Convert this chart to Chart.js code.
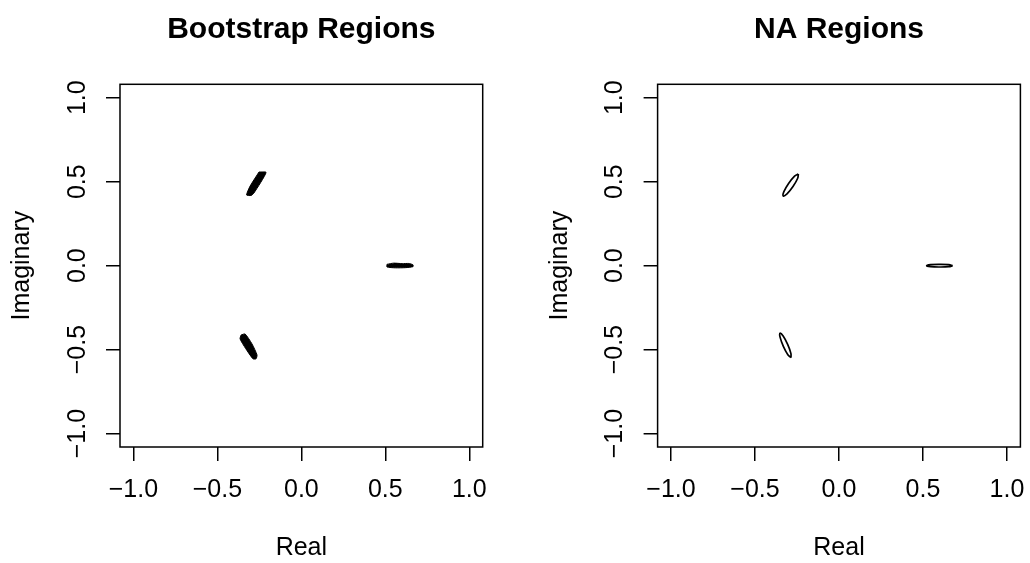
<!DOCTYPE html>
<html>
<head>
<meta charset="utf-8">
<script src="https://cdn.jsdelivr.net/npm/chart.js@4.4.1/dist/chart.umd.min.js"></script>
<style>
  body { margin: 0; background: #fff; overflow: hidden; }
  canvas { position: absolute; top: 0; }
  #boot-chart { left: 0; }
  #na-chart { left: 515px; }
</style>
</head>
<body>
<canvas id="boot-chart" width="515" height="563"></canvas>
<canvas id="na-chart" width="515" height="563"></canvas>
<script>
const tickValues = [-1, -0.5, 0, 0.5, 1];
const tickLabels = ["\u22121.0", "\u22120.5", "0.0", "0.5", "1.0"];

// region outlines, [real, imaginary]
const bootUpper = [[-0.252, 0.558], [-0.21, 0.555], [-0.282, 0.433], [-0.299, 0.418], [-0.326, 0.421], [-0.305, 0.474], [-0.252, 0.558]];
const bootLower = [[-0.359, -0.413], [-0.335, -0.407], [-0.294, -0.466], [-0.264, -0.532], [-0.27, -0.555], [-0.288, -0.555], [-0.332, -0.493], [-0.365, -0.436], [-0.359, -0.413]];
const bootRight = [[0.51, 0.008], [0.55, 0.015], [0.6, 0.012], [0.64, 0.013], [0.665, 0.005], [0.665, -0.006], [0.62, -0.012], [0.56, -0.013], [0.51, -0.008], [0.51, 0.008]];

const naUpper = [[-0.242, 0.546], [-0.2645, 0.5332], [-0.3002, 0.4896], [-0.3281, 0.4406], [-0.332, 0.415], [-0.3095, 0.4278], [-0.2738, 0.4714], [-0.2459, 0.5204], [-0.242, 0.546]];
const naLower = [[-0.286, -0.548], [-0.2865, -0.5226], [-0.3057, -0.4693], [-0.3325, -0.4194], [-0.351, -0.402], [-0.3505, -0.4274], [-0.3313, -0.4807], [-0.3045, -0.5306], [-0.286, -0.548]];
const naRight = [[0.677, 0], [0.654, 0.006], [0.5995, 0.008], [0.545, 0.006], [0.522, 0], [0.545, -0.006], [0.5995, -0.008], [0.654, -0.006], [0.677, 0]];

const FONT = "'Liberation Sans', Arial, Helvetica, sans-serif";

const frame = {
  id: "frame",
  afterDraw(chart) {
    const { ctx, chartArea: a } = chart;
    ctx.save();
    ctx.strokeStyle = "#000";
    ctx.lineWidth = 1.5;
    ctx.strokeRect(a.left, a.top, a.right - a.left, a.bottom - a.top);
    ctx.restore();
  },
};

function toPoints(list) {
  return list.map((p) => ({ x: p[0], y: p[1] }));
}

function regionSet(list, filled) {
  return {
    data: toPoints(list),
    showLine: true,
    borderColor: "#000",
    backgroundColor: "#000",
    borderWidth: filled ? 1 : 1.7,
    pointRadius: 0,
    tension: filled ? 0.2 : 0.4,
    fill: filled ? "shape" : false,
  };
}

function axisTicks(scale) {
  scale.ticks = tickValues.map((v) => ({ value: v }));
}

function regionChart(id, title, regions, filled, leftPad, rightPad) {
  const ctx = document.getElementById(id).getContext("2d");
  return new Chart(ctx, {
    type: "scatter",
    plugins: [frame],
    data: { datasets: regions.map((r) => regionSet(r, filled)) },
    options: {
      responsive: false,
      animation: false,
      layout: { padding: { left: leftPad, right: rightPad, top: 0, bottom: 0 } },
      plugins: {
        legend: { display: false },
        tooltip: { enabled: false },
        title: {
          display: true,
          text: title,
          fullSize: false,
          color: "#000",
          font: { size: 30, weight: "bold", family: FONT },
          padding: { top: 12, bottom: 36.3 },
        },
      },
      scales: {
        x: {
          type: "linear",
          min: -1.08,
          max: 1.08,
          afterBuildTicks: axisTicks,
          afterFit(scale) {
            scale.height = 116;
            scale.paddingLeft = 0;
            scale.paddingRight = 0;
          },
          border: { display: false },
          grid: { drawOnChartArea: false, drawTicks: true, tickLength: 14, color: "#000", lineWidth: 1.5 },
          ticks: {
            padding: 14,
            color: "#000",
            maxRotation: 0,
            font: { size: 25, family: FONT },
            callback: (v, i) => tickLabels[i],
          },
          title: {
            display: true,
            text: "Real",
            color: "#000",
            font: { size: 25, family: FONT },
            padding: { top: 0, bottom: 0 },
          },
        },
        y: {
          type: "linear",
          min: -1.08,
          max: 1.08,
          afterBuildTicks: axisTicks,
          afterFit(scale) {
            scale.width = 120;
            scale.paddingTop = 0;
            scale.paddingBottom = 0;
          },
          border: { display: false },
          grid: { drawOnChartArea: false, drawTicks: true, tickLength: 14, color: "#000", lineWidth: 1.5 },
          ticks: {
            padding: 3.5,
            color: "#000",
            minRotation: 90,
            maxRotation: 90,
            crossAlign: "center",
            font: { size: 25, family: FONT },
            callback: (v, i) => tickLabels[i],
          },
          title: {
            display: true,
            text: "Imaginary",
            color: "#000",
            font: { size: 25, family: FONT },
            padding: { top: 7.5, bottom: 0 },
          },
        },
      },
    },
  });
}

regionChart("boot-chart", "Bootstrap Regions", [bootUpper, bootLower, bootRight], true, 0, 32.3);
regionChart("na-chart", "NA Regions", [naUpper, naLower, naRight], false, 22.6, 9.6);
</script>
</body>
</html>
